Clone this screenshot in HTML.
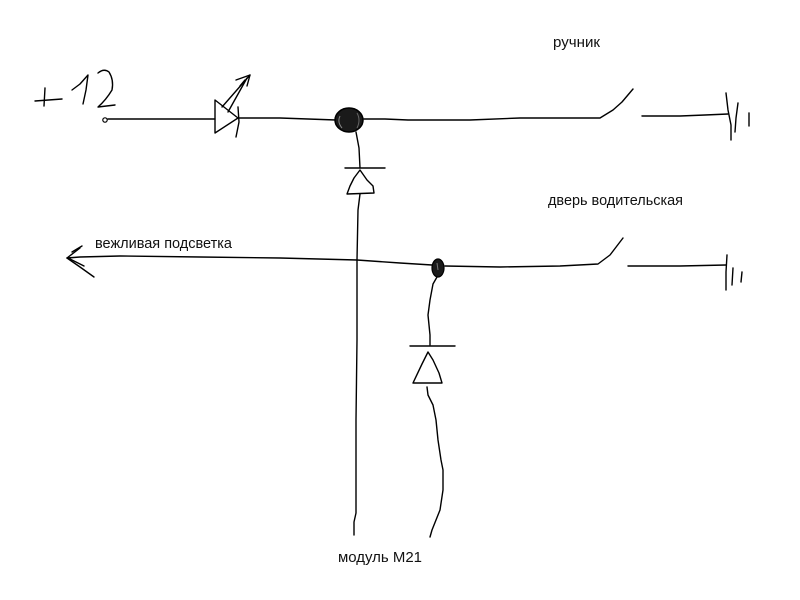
<!DOCTYPE html>
<html><head><meta charset="utf-8"><style>
html,body{margin:0;padding:0;background:#fff;width:800px;height:600px;overflow:hidden}
svg{display:block}
text{font-family:"Liberation Sans","DejaVu Sans",sans-serif;font-size:15px;fill:#111}
</style></head><body>
<svg width="800" height="600" viewBox="0 0 800 600" xmlns="http://www.w3.org/2000/svg">
<g fill="none" stroke="#000" stroke-width="1.4" stroke-linecap="round" stroke-linejoin="round">
<!-- +12 -->
<path d="M35 101 L62 99"/>
<path d="M45 88 L44 106"/>
<path d="M72 90 L80 84 L88 75 L86 90 L83 104"/>
<path d="M98 73 Q104 68 109 72 Q114 80 112 90 Q106 100 98 107 L115 105"/>
<circle cx="105" cy="120" r="2.2" stroke-width="1.2"/>
<!-- top wire -->
<path d="M108 119 L180 119 L215 119"/>
<!-- LED diode -->
<path d="M215 100 L215 133 L238 118 Z"/>
<path d="M238 107 L239 122 L236 137"/>
<path d="M222 107 L250 75"/>
<path d="M228 112 L247 78"/>
<path d="M236 80 L250 75 L247 86"/>
<path d="M240 86 L245 80"/>
<path d="M238 118 L280 118 L336 120"/>
<!-- top wire right -->
<path d="M364 119 L385 119 L408 120 L470 120 L520 118 L580 118 L600 118 L613 110 L622 102 L633 89"/>
<path d="M642 116 L680 116 L705 115 L728 114"/>
<!-- top ground -->
<path d="M726 93 L728 110 L731 125 L731 140"/>
<path d="M738 103 L736 118 L735 132"/>
<path d="M749 113 L749 126"/>
<!-- first vertical down to diode -->
<path d="M356 132 L359 148 L360 168"/>
<path d="M345 168 L385 168"/>
<path d="M360 170 L354 178 L350 186 L347 194 L374 193 L373 186 L367 180 Z"/>
<path d="M360 194 L358 210 L357 260 L357 340 L356 420 L356 513 L354 522 L354 535"/>
<!-- second horizontal wire -->
<path d="M67 258 L80 257 L120 256 L200 257 L280 258 L357 260 L400 263 L432 265"/>
<path d="M445 266 L500 267 L560 266 L598 264 L610 255 L623 238"/>
<path d="M628 266 L680 266 L726 265"/>
<!-- arrowhead -->
<path d="M67 258 L80 248"/>
<path d="M72 252 L82 246"/>
<path d="M67 258 L80 267 L94 277"/>
<path d="M70 259 L84 266"/>
<!-- bottom ground -->
<path d="M727 255 L726 272 L726 290"/>
<path d="M733 268 L732 285"/>
<path d="M742 272 L741 282"/>
<!-- second vertical -->
<path d="M437 277 L433 284 L430 300 L428 315 L430 335 L430 345"/>
<path d="M410 346 L455 346"/>
<path d="M428 352 L422 364 L413 383 L442 383 L439 373 L433 360 Z"/>
<path d="M427 387 L428 395 L433 405 L436 420 L438 440 L441 460 L443 470 L443 490 L440 510 L436 520 L432 530 L430 537"/>
</g>
<!-- junction blobs -->
<ellipse cx="349" cy="120" rx="14" ry="12" fill="#1a1a1a" stroke="#000" stroke-width="1.5"/>
<path d="M340 116 Q337 122 342 128" fill="none" stroke="#888" stroke-width="1"/>
<path d="M357 113 Q361 120 357 128" fill="none" stroke="#666" stroke-width="1"/>
<ellipse cx="438" cy="268" rx="6" ry="9" fill="#1a1a1a" stroke="#000" stroke-width="1.2"/>
<path d="M437 263 L438 270" stroke="#777" stroke-width="1"/>
<!-- labels -->
<text x="553" y="47" textLength="47" lengthAdjust="spacingAndGlyphs">ручник</text>
<text x="548" y="205" textLength="135" lengthAdjust="spacingAndGlyphs">дверь водительская</text>
<text x="95" y="248" textLength="137" lengthAdjust="spacingAndGlyphs">вежливая подсветка</text>
<text x="338" y="562" textLength="84" lengthAdjust="spacingAndGlyphs">модуль М21</text>
</svg>
</body></html>
